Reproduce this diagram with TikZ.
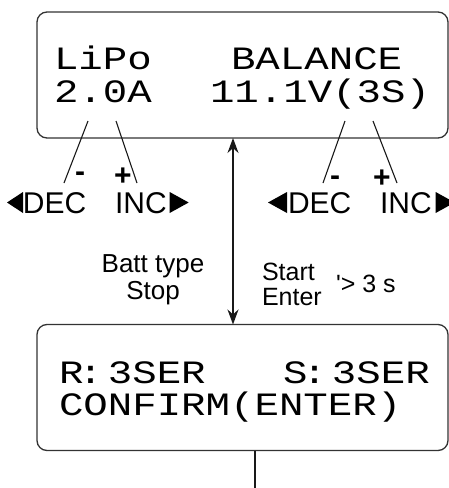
\documentclass[tikz,border=0pt]{standalone}
\usepackage{fontspec}
\setmainfont{Liberation Sans}
\newfontfamily\lcdfont[FakeStretch=1.25]{Liberation Mono}
\usetikzlibrary{positioning, arrows.meta}

\begin{document}
\begin{tikzpicture}[x=1pt,y=-1pt,>={Stealth[length=15pt,width=11pt]}]
\tikzstyle{every node}=[inner sep=0pt, outer sep=0pt]
\tikzstyle{screen}=[draw=black!80, line width=1.3pt, rounded corners=10pt, minimum width=411pt, minimum height=126pt]
\tikzstyle{lcd}=[font=\lcdfont\fontsize{32.6}{34}\selectfont, anchor=base west]
\tikzstyle{key}=[font=\fontsize{30}{32}\selectfont, anchor=base west]
\tikzstyle{sign}=[font=\bfseries\fontsize{30}{30}\selectfont]
\tikzstyle{note}=[font=\fontsize{25}{25}\selectfont]
\tikzstyle{pointer}=[draw=black!90, line width=1.1pt]

\useasboundingbox (0,0) rectangle (449,488);

% screens
\node[screen] (main) at (242.5,75) {};
\node[screen] (conf) at (242.5,387.5) {};

\node[lcd] (type) at (54,69) {LiPo};
\node[lcd] (mode) at (231,69) {BALANCE};
\node[lcd] (amps) at (54,102) {2.0A};
\node[lcd] (volt) at (210,102) {11.1V(3S)};
\node[lcd] (rcell) at (59,383) {R\kern-5pt:\kern5pt3SER};
\node[lcd] (scell) at (283,383) {S\kern-5pt:\kern5pt3SER};
\node[lcd] (ok) at (59,415) {CONFIRM(ENTER)};

% keys
\node[key] (decl) at (23,213) {DEC};
\node[key] (incl) at (115,213) {INC};
\node[key] (decr) at (288,213) {DEC};
\node[key] (incr) at (380,213) {INC};
\fill (decl.base west) -- ++(0,-21) -- ++(-16,10.5) -- cycle;
\fill ([xshift=3pt]incl.base east) -- ++(0,-21) -- ++(19,10.5) -- cycle;
\fill ([xshift=-1pt]decr.base west) -- ++(0,-21) -- ++(-19,10.5) -- cycle;
\fill ([xshift=4pt]incr.base east) -- ++(0,-21) -- ++(19,10.5) -- cycle;

\node[sign] (minl) at (80,177) {-};
\node[sign] (plusl) at (123,177) {+};
\node[sign] (minr) at (335,181) {-};
\node[sign] (plusr) at (382,179) {+};

\coordinate (p1) at (88,121);  \coordinate (q1) at (64,183);
\coordinate (p2) at (116,121); \coordinate (q2) at (137,183);
\coordinate (p3) at (345,121); \coordinate (q3) at (323,183);
\coordinate (p4) at (373,121); \coordinate (q4) at (397,183);
\foreach \i in {1,...,4}
  \draw[pointer] (p\i) -- (q\i);

% flow
\coordinate (mid) at (233,0);
\coordinate (out) at (255,488);
\draw[pointer, line width=1.4pt, <->] (main.south -| mid) -- (conf.north -| mid);
\draw[pointer, line width=1.4pt] (conf.south -| out) -- (out);

\node[note, font=\fontsize{26}{27}\selectfont, align=center, anchor=north] (back) at (153,255) {Batt type\\Stop};
\node[note, align=left, anchor=north west] (go) at (262,263) {Start\\Enter};
\node[note, anchor=base west] (hold) at (336,292) {\textquotesingle> 3 s};
\end{tikzpicture}
\end{document}
